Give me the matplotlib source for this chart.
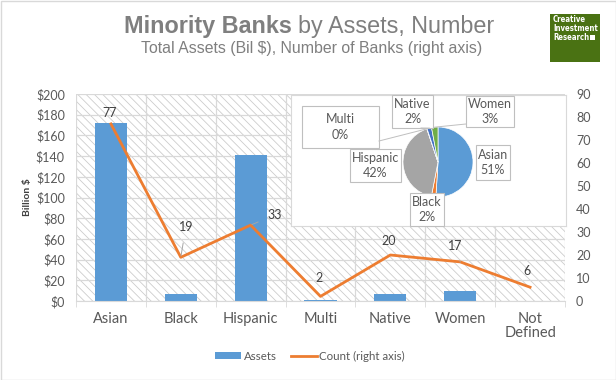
import numpy as np
import matplotlib
matplotlib.use("Agg")
import matplotlib.pyplot as plt
from matplotlib.patches import Rectangle, Patch
from matplotlib.lines import Line2D

# ---- data ----
categories = ["Asian", "Black", "Hispanic", "Multi", "Native", "Women", "Not\nDefined"]
assets = [172, 7, 141, 0.5, 7, 10, 0]          # total assets, billion $
counts = [77, 19, 33, 2, 20, 17, 6]            # number of banks (right axis)

pie_names = ["Asian", "Black", "Hispanic", "Multi", "Native", "Women"]
pie_assets = assets[:6]                        # inset pie = share of total assets

# ---- styling / layout ----
W, H = 616, 380                                # canvas in pixels
BLUE, ORANGE = "#5B9BD5", "#ED7D31"
PIE_COLORS = ["#5B9BD5", "#ED7D31", "#A5A5A5", "#FFC000", "#4472C4", "#70AD47"]
GRID = "#d9d9d9"
TXT = "#595959"
FONT = "Lato"
plt.rcParams["hatch.linewidth"] = 0.6

# count label offsets in pixels (dx, dy up), and whether a leader line is drawn
count_offsets = [(-1, 11), (5, 30), (24, 10), (-1, 18), (-2, 14), (-5, 16), (-3, 16)]
count_leader = [False, True, True, False, False, True, False]

# pie label boxes (x0, y0, x1, y1) in pixels, and leader-line start points
pie_boxes = [(476, 145, 510, 180), (410, 193, 444, 226), (350, 149, 401, 182),
             (302, 106, 379, 148), (392, 95, 433, 128), (466, 96, 514, 127)]
pie_leader = [None, None, None, (379, 141), (421, 128), (466, 124)]
PIE_C, PIE_R = (438, 162), 35


def fx(x):
    return x / W


def fy(y):
    return 1 - y / H


fig = plt.figure(figsize=(W / 100, H / 100), dpi=100)
fig.add_artist(Rectangle((0.5 / W, 0.5 / H), 1 - 1 / W, 1 - 1 / H, transform=fig.transFigure,
                         fill=False, edgecolor=GRID, lw=1))

# ---- main axes: bars on left scale ----
ax = fig.add_axes([fx(76), fy(301), (565 - 76) / W, (301 - 94) / H])
x = np.arange(len(categories))
ax.set_xlim(-0.5, len(categories) - 0.5)
ax.set_ylim(0, 200)
ax.add_patch(Rectangle((0, 0), 1, 1, transform=ax.transAxes, facecolor="white",
                       edgecolor="#cccccc", hatch="\\" * 4, lw=0, zorder=0))
ax.bar(x, assets, width=0.46, color=BLUE, zorder=2)

ax.set_yticks(np.arange(0, 201, 20))
ax.set_yticklabels([f"${v}" for v in range(0, 201, 20)])
ax.set_xticks(x)
ax.set_xticklabels(categories, fontsize=10.5, color=TXT, family=FONT, linespacing=1.0)
ax.set_xticks(np.arange(-0.5, len(categories), 1), minor=True)
ax.tick_params(axis="x", which="major", length=0, pad=8)
ax.tick_params(axis="x", which="minor", length=4, color=GRID)
ax.tick_params(axis="y", length=0, pad=8, labelsize=9, labelcolor=TXT)
for lab in ax.get_yticklabels():
    lab.set_family(FONT)
ax.grid(axis="y", color=GRID, lw=0.9, zorder=1)
ax.grid(axis="x", which="minor", color=GRID, lw=0.9, zorder=1)
ax.set_axisbelow(True)
for s in ["top", "left", "right"]:
    ax.spines[s].set_visible(False)
ax.spines["bottom"].set_color(GRID)
ax.set_ylabel("Billion $", fontsize=7.5, weight="bold", color="#404040", family=FONT, labelpad=3)

# ---- count line on right scale ----
ax2 = ax.twinx()
ax2.set_ylim(0, 90)
ax2.set_yticks(np.arange(0, 91, 10))
ax2.tick_params(axis="y", length=0, pad=8, labelsize=9, labelcolor=TXT)
for lab in ax2.get_yticklabels():
    lab.set_family(FONT)
for s in ax2.spines.values():
    s.set_visible(False)
ax2.plot(x, counts, color=ORANGE, lw=2.0, zorder=3)
for xi, c, (dx, dy), lead in zip(x, counts, count_offsets, count_leader):
    ax2.annotate(str(c), (xi, c), xytext=(dx * 0.72, dy * 0.72), textcoords="offset points",
                 ha="center", va="center", fontsize=9, color="#404040", family=FONT,
                 arrowprops=dict(arrowstyle="-", color="#a6a6a6", lw=0.7, shrinkA=5, shrinkB=1)
                 if lead else None)

# ---- inset pie of asset shares ----
box = fig.add_axes([fx(291), fy(226), (566 - 291) / W, (226 - 95) / H])
box.set_zorder(5)
box.set_facecolor("white")
box.set_xticks([])
box.set_yticks([])
for s in box.spines.values():
    s.set_color(GRID)

pax = fig.add_axes([fx(PIE_C[0] - PIE_R), fy(PIE_C[1] + PIE_R), 2 * PIE_R / W, 2 * PIE_R / H])
pax.set_zorder(6)
pax.pie(pie_assets, colors=PIE_COLORS, startangle=90, counterclock=False,
        wedgeprops=dict(edgecolor="white", linewidth=0.5))
pax.set_xlim(-1, 1)
pax.set_ylim(-1, 1)

ov = fig.add_axes([0, 0, 1, 1])
ov.set_zorder(7)
ov.set_xlim(0, W)
ov.set_ylim(H, 0)
ov.axis("off")
total = sum(pie_assets)
shares = [v / total for v in pie_assets]
cum = np.cumsum([0] + shares)
for i, name in enumerate(pie_names):
    x0, y0, x1, y1 = pie_boxes[i]
    ov.add_patch(Rectangle((x0, y0), x1 - x0, y1 - y0, facecolor="white", edgecolor="#bfbfbf", lw=0.8))
    ov.text((x0 + x1) / 2, (y0 + y1) / 2, f"{name}\n{shares[i] * 100:.0f}%", ha="center", va="center",
            fontsize=9, color=TXT, family=FONT, linespacing=1.35)
    if pie_leader[i] is not None:
        ang = np.deg2rad((cum[i] + cum[i + 1]) / 2 * 360)
        ex = PIE_C[0] + PIE_R * np.sin(ang)
        ey = PIE_C[1] - PIE_R * np.cos(ang)
        ov.plot([pie_leader[i][0], ex], [pie_leader[i][1], ey], color="#bfbfbf", lw=0.7)

# logo: green square with white text and a tiny icon
ov.add_patch(Rectangle((550, 14), 50, 48, facecolor="#4a7213", edgecolor="none"))
ov.text(553, 15, "Creative\nInvestment\nResearch", ha="left", va="top", fontsize=5.6,
        weight="bold", color="white", linespacing=1.0, family="DejaVu Sans", fontstretch="condensed")
ov.add_patch(Rectangle((590, 35), 4.5, 5, facecolor="white", edgecolor="none"))

# ---- titles, legend ----
fig.text(fx(292), fy(27), "Minority Banks", ha="right", va="center", fontsize=16.8, weight="bold",
         color="#7f7f7f", family="Liberation Sans")
fig.text(fx(298), fy(27), "by Assets, Number", ha="left", va="center", fontsize=16.8,
         color="#7f7f7f", family="Liberation Sans")
fig.text(fx(312), fy(48), "Total Assets (Bil $), Number of Banks (right axis)", ha="center",
         va="center", fontsize=11.4, color="#7f7f7f", family="Liberation Sans")

handles = [Patch(facecolor=BLUE), Line2D([], [], color=ORANGE, lw=2)]
leg = fig.legend(handles, ["Assets", "Count (right axis)"], loc="center",
                 bbox_to_anchor=(fx(310), fy(356)), ncol=2, frameon=False, fontsize=8.3,
                 handlelength=2.25, handleheight=0.5, columnspacing=1.2, handletextpad=0.25)
for t in leg.get_texts():
    t.set_color(TXT)
    t.set_family(FONT)

fig.savefig("out.png", dpi=100)
